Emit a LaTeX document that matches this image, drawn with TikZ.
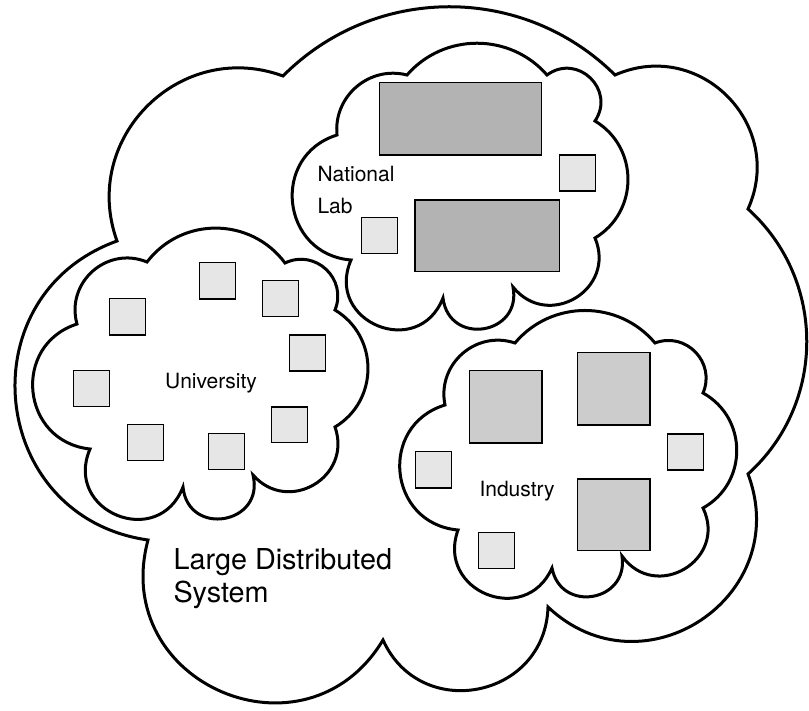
\documentclass[tikz,border=0pt]{standalone}
\usepackage{fontspec}
\setmainfont{TeX Gyre Heros}
\definecolor{darkbox}{HTML}{B3B3B3}
\definecolor{midbox}{HTML}{CCCCCC}
\definecolor{lightbox}{HTML}{E6E6E6}
\tikzset{
  lobe/.code={\pgfmathsetmacro\lobeloose{0.8514/(cos(#1/2)^2)}%
    \edef\lobetmp{\noexpand\pgfkeysalso{/tikz/bend left=#1,/tikz/looseness=\lobeloose}}\lobetmp},
  cloud/.style={draw=black, fill=white, line width=3pt, line join=miter, miter limit=20},
  bigdark/.style={draw=black, fill=darkbox, line width=1.5pt},
  bigmid/.style={draw=black, fill=midbox, line width=1.5pt},
  smallbox/.style={draw=black, fill=lightbox, line width=1.5pt},
  lbl/.style={inner sep=0pt, anchor=base west, font=\fontsize{21}{25}\selectfont},
  biglbl/.style={inner sep=0pt, anchor=base west, font=\fontsize{28.8}{33}\selectfont}
}
\begin{document}
\begin{tikzpicture}[x=1pt,y=-1pt]
\useasboundingbox (0,0) rectangle (809,711);
% large cloud
\draw[cloud] (283,76) to[lobe=45] (615,75) to[lobe=69] (748,209) to[lobe=48] (748,474)
  to[lobe=77] (548,607) to[lobe=77] (383,640) to[lobe=82] (148,540) to[lobe=76] (117,241)
  to[lobe=65] cycle;
% national lab cloud
\draw[cloud] (407,75) to[lobe=49] (547,75) to[lobe=80] (595,121) to[lobe=59] (595,238)
  to[lobe=82] (513,287) to[lobe=92] (443,298) to[lobe=91] (351,260) to[lobe=79] (337,135)
  to[lobe=55] cycle;
% university cloud
\draw[cloud] (147,262) to[lobe=53] (285,263) to[lobe=69] (335,310) to[lobe=59] (335,427)
  to[lobe=79] (253,475) to[lobe=94] (183,487) to[lobe=91] (90,449) to[lobe=78] (77,324)
  to[lobe=64] cycle;
% industry cloud
\draw[cloud] (515,343) to[lobe=50] (655,343) to[lobe=67] (703,393) to[lobe=61] (703,508)
  to[lobe=85] (622,556) to[lobe=89] (552,568) to[lobe=88] (458,530) to[lobe=79] (445,405)
  to[lobe=60] cycle;
% national lab boxes
\path[bigdark] (379.3,82.7) rectangle (541.7,155);
\path[bigdark] (415,200) rectangle (559.3,271.7);
\path[smallbox] (559.3,155) rectangle (595.7,191);
\path[smallbox] (361.7,217.7) rectangle (397.7,253.7);
% university boxes
\path[smallbox] (199.3,262.7) rectangle (235.7,299);
\path[smallbox] (262.3,280.7) rectangle (298.7,316.7);
\path[smallbox] (109.3,298.7) rectangle (145.7,335);
\path[smallbox] (289.3,335) rectangle (325.7,371);
\path[smallbox] (73.3,370.7) rectangle (109.7,406.7);
\path[smallbox] (271.7,407) rectangle (307.7,442.7);
\path[smallbox] (127.3,424.7) rectangle (163.7,460.7);
\path[smallbox] (208.3,433.7) rectangle (244.7,469.7);
% industry boxes
\path[bigmid] (469.3,370.7) rectangle (542,443);
\path[bigmid] (577.3,352.7) rectangle (650,425);
\path[bigmid] (577.3,479) rectangle (650,550.7);
\path[smallbox] (667.3,434) rectangle (703.7,470);
\path[smallbox] (415.3,451.7) rectangle (451.7,488);
\path[smallbox] (478.3,532.7) rectangle (514.7,568.7);
% labels
\node[lbl] (nat) at (317.3,182) {National};
\node[lbl] (lab) at (317.3,214) {Lab};
\node[lbl] (uni) at (165,388.3) {University};
\node[lbl] (ind) at (479.3,496.7) {Industry};
\node[biglbl] (lds) at (173.3,569) {Large Distributed};
\node[biglbl] (sys) at (173.3,602) {System};
\end{tikzpicture}
\end{document}
